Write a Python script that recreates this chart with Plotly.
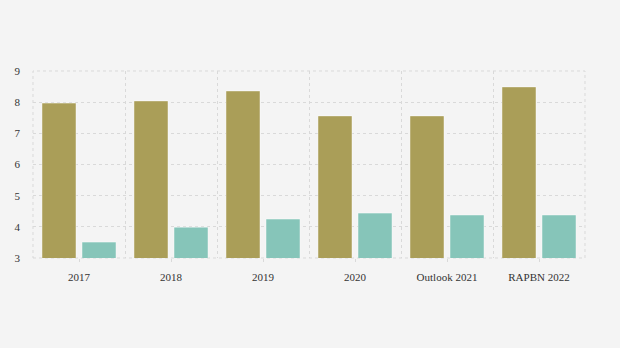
import plotly.graph_objects as go

categories = ["2017", "2018", "2019", "2020", "Outlook 2021", "RAPBN 2022"]
series_a = [7.97, 8.04, 8.36, 7.56, 7.56, 8.49]
series_b = [3.51, 3.99, 4.25, 4.44, 4.38, 4.38]

positions = list(range(len(categories)))

fig = go.Figure()
fig.add_trace(go.Bar(
    x=positions, y=series_a, name="Series A",
    marker=dict(color="#aa9e58", line=dict(color="rgba(255,255,255,0.45)", width=1)),
))
fig.add_trace(go.Bar(
    x=positions, y=series_b, name="Series B",
    marker=dict(color="#86c5b9", line=dict(color="rgba(255,255,255,0.45)", width=1)),
))

grid_color = "#d9d9d9"

# dotted frame around the plotting area
fig.add_shape(type="rect", xref="paper", yref="paper", x0=0, x1=1, y0=0, y1=1,
              line=dict(color=grid_color, dash="dot", width=1), layer="below")

fig.update_layout(
    width=620, height=348,
    margin=dict(l=33, r=35, t=71, b=90),
    paper_bgcolor="#f4f4f4", plot_bgcolor="#f4f4f4",
    barmode="group", bargap=0.13, bargroupgap=0.15,
    showlegend=False,
    font=dict(family="Liberation Serif, Times New Roman, serif", size=11, color="#333333"),
    xaxis=dict(
        range=[-0.5, len(categories) - 0.5],
        tickmode="array", tickvals=positions, ticktext=categories,
        showgrid=False, zeroline=False, showline=False,
        ticks="outside", ticklen=3, tickcolor=grid_color,
        ticklabelstandoff=6,
        minor=dict(tick0=0.5, dtick=1, showgrid=True,
                   gridcolor=grid_color, griddash="dot", gridwidth=1),
        tickfont=dict(size=11),
    ),
    yaxis=dict(
        range=[3, 9], dtick=1,
        showgrid=True, gridcolor=grid_color, griddash="dot", gridwidth=1,
        zeroline=False, showline=False, ticks="",
        ticklabelstandoff=12,
        tickfont=dict(size=11),
    ),
)

fig.write_html("out.html")
